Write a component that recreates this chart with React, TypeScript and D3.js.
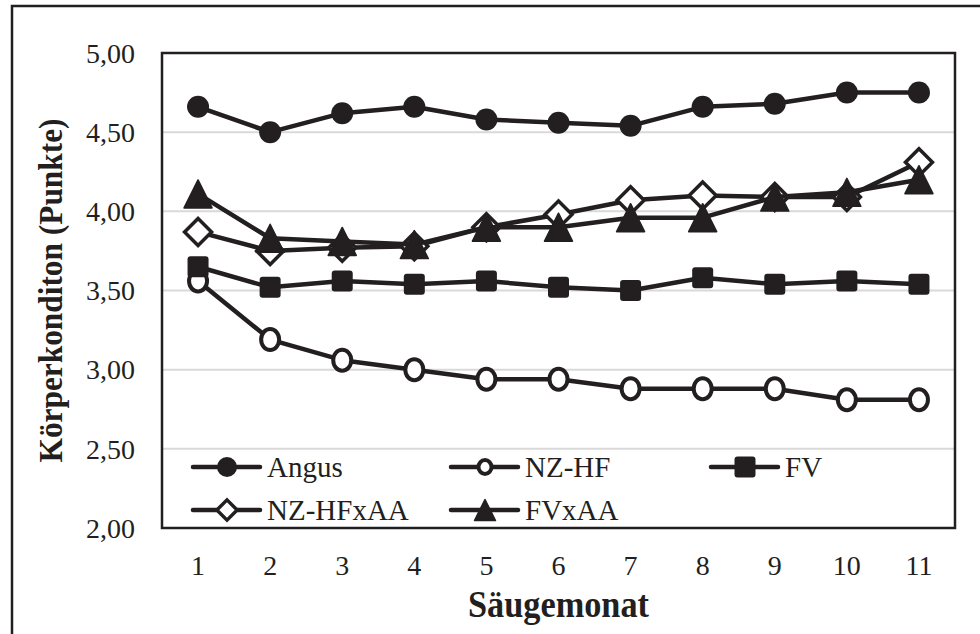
import React from "react";
import * as d3 from "d3";

const months = ["1", "2", "3", "4", "5", "6", "7", "8", "9", "10", "11"];
const yTicks = [2, 2.5, 3, 3.5, 4, 4.5, 5];

const angus = [4.66, 4.5, 4.62, 4.66, 4.58, 4.56, 4.54, 4.66, 4.68, 4.75, 4.75];
const nzhf = [3.56, 3.19, 3.06, 3.0, 2.94, 2.94, 2.88, 2.88, 2.88, 2.81, 2.81];
const fv = [3.65, 3.52, 3.56, 3.54, 3.56, 3.52, 3.5, 3.58, 3.54, 3.56, 3.54];
const nzhfxaa = [3.87, 3.75, 3.77, 3.78, 3.9, 3.98, 4.07, 4.1, 4.09, 4.09, 4.31];
const fvxaa = [4.11, 3.83, 3.81, 3.79, 3.9, 3.9, 3.96, 3.96, 4.09, 4.12, 4.2];

const seriesNames = ["Angus", "NZ-HF", "FV", "NZ-HFxAA", "FVxAA"];

const ink = "#231f20";
const font = '"Liberation Serif", "Times New Roman", Times, serif';

// marker shapes, s = half size
const markerPath = (kind: string, s: number) => {
  if (kind === "diamond") return `M0,${-s}L${s},0L0,${s}L${-s},0Z`;
  if (kind === "triangle") return `M0,${-s}L${s},${s}L${-s},${s}Z`;
  return d3.symbol(d3.symbolCircle, Math.PI * s * s)() as string;
};

const Marker = ({ kind, x, y, big }: { kind: string; x: number; y: number; big: boolean }) => {
  const k = big ? 1 : 0.75;
  if (kind === "open")
    return (
      <ellipse cx={x} cy={y} rx={big ? 9 : 6.5} ry={big ? 10.5 : 7} fill="#fff" stroke={ink} strokeWidth={4} />
    );
  if (kind === "diamond")
    return (
      <path transform={`translate(${x},${y})`} d={markerPath("diamond", 13.5 * k)} fill="#fff" stroke={ink} strokeWidth={3.5} />
    );
  if (kind === "square")
    return <rect x={x - 10.5} y={y - 10.5} width={21} height={21} rx={3} fill={ink} />;
  if (kind === "triangle")
    return (
      <path transform={`translate(${x},${y})`} d={markerPath("triangle", 14 * k)} fill={ink} stroke={ink} strokeWidth={1.5} strokeLinejoin="round" />
    );
  return <path transform={`translate(${x},${y})`} d={markerPath("circle", big ? 11 : 10)} fill={ink} />;
};

const App = () => {
  const width = 980,
    height = 634;
  const plot = { left: 162, right: 955, top: 53, bottom: 528 };

  const x = d3.scalePoint().domain(months).range([plot.left, plot.right]).padding(0.5);
  const y = d3.scaleLinear().domain([2, 5]).range([plot.bottom, plot.top]);

  const series = [
    { name: seriesNames[0], values: angus, kind: "circle" },
    { name: seriesNames[1], values: nzhf, kind: "open" },
    { name: seriesNames[2], values: fv, kind: "square" },
    { name: seriesNames[3], values: nzhfxaa, kind: "diamond" },
    { name: seriesNames[4], values: fvxaa, kind: "triangle" },
  ];

  const line = d3
    .line<number>()
    .x((d, i) => x(months[i]) as number)
    .y((d) => y(d));

  // legend slots
  const legendPos = [
    { lx: 193, ly: 467 },
    { lx: 451, ly: 467 },
    { lx: 711, ly: 467 },
    { lx: 193, ly: 510 },
    { lx: 451, ly: 510 },
  ];

  return (
    <svg
      width={width}
      height={height}
      style={{ position: "fixed", left: 0, top: 0, background: "#fff", fontFamily: font }}
    >
      <rect x={12} y={6} width={1000} height={700} fill="#fff" stroke={ink} strokeWidth={2.5} />

      {yTicks.map((t) => (
        <g key={t}>
          {t > 2 && t < 5 && (
            <line x1={plot.left} x2={plot.right} y1={y(t)} y2={y(t)} stroke="#d9d9d9" strokeWidth={2} />
          )}
          <text x={135} y={y(t)} dy="0.35em" textAnchor="end" fontSize={28} fill={ink}>
            {d3.format(".2f")(t).replace(".", ",")}
          </text>
        </g>
      ))}

      {months.map((m) => (
        <text key={m} x={x(m)} y={575} textAnchor="middle" fontSize={28} fill={ink}>
          {m}
        </text>
      ))}

      {series.map((s) => (
        <g key={s.name}>
          <path d={line(s.values) as string} fill="none" stroke={ink} strokeWidth={4.5} strokeLinejoin="round" />
          {s.values.map((v, i) => (
            <Marker key={i} kind={s.kind} x={x(months[i]) as number} y={y(v)} big={true} />
          ))}
        </g>
      ))}

      <rect
        x={plot.left}
        y={plot.top}
        width={plot.right - plot.left}
        height={plot.bottom - plot.top}
        fill="none"
        stroke={ink}
        strokeWidth={2.5}
      />

      {series.map((s, i) => {
        const { lx, ly } = legendPos[i];
        return (
          <g key={s.name}>
            <line x1={lx} x2={lx + 67} y1={ly} y2={ly} stroke={ink} strokeWidth={4.5} strokeLinecap="round" />
            <Marker kind={s.kind} x={lx + 34} y={ly} big={false} />
            <text x={lx + 74} y={ly} dy="0.35em" fontSize={29} fill={ink}>
              {s.name}
            </text>
          </g>
        );
      })}

      <text
        x={(plot.left + plot.right) / 2}
        y={617}
        textAnchor="middle"
        fontSize={37}
        fontWeight="bold"
        fill={ink}
        textLength={181}
        lengthAdjust="spacingAndGlyphs"
      >
        Säugemonat
      </text>
      <text
        transform={`translate(62,${(plot.top + plot.bottom) / 2}) rotate(-90)`}
        textAnchor="middle"
        fontSize={34}
        fontWeight="bold"
        fill={ink}
        textLength={344}
        lengthAdjust="spacingAndGlyphs"
      >
        Körperkonditon (Punkte)
      </text>
    </svg>
  );
};

export default App;
